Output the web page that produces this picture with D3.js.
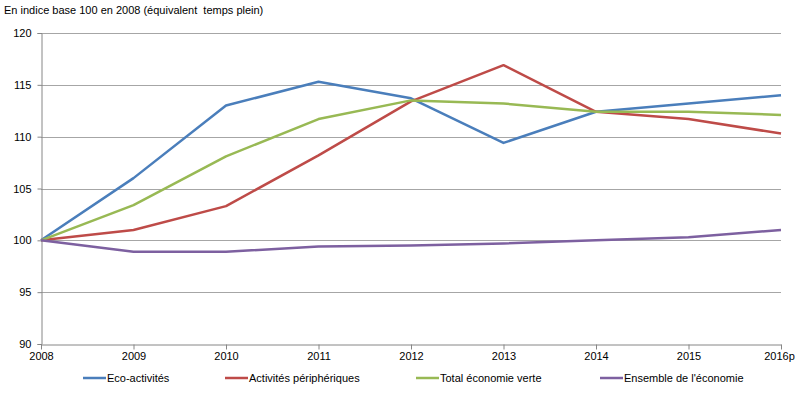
<!DOCTYPE html>
<html>
<head>
<meta charset="utf-8">
<script src="https://cdn.jsdelivr.net/npm/d3@7"></script>
<style>
  body { margin: 0; background: #fff; }
  text { font-family: "Liberation Sans", Arial, sans-serif; font-size: 11px; fill: #000; }
</style>
</head>
<body>
<svg id="chart"></svg>
<script>
// Years on the x axis
var years = ['2008', '2009', '2010', '2011', '2012', '2013', '2014', '2015', '2016p'];

// Series values (index base 100 in 2008)
var ecoActivites = [100, 106, 113, 115.3, 113.7, 109.4, 112.4, 113.2, 114];
var activitesPeripheriques = [100, 101, 103.3, 108.2, 113.4, 116.9, 112.4, 111.7, 110.3];
var totalEconomieVerte = [100, 103.4, 108.1, 111.7, 113.5, 113.2, 112.4, 112.4, 112.1];
var ensembleEconomie = [100, 98.9, 98.9, 99.4, 99.5, 99.7, 100, 100.3, 101];

var yTicks = [90, 95, 100, 105, 110, 115, 120];

var seriesNames = ['Eco-activités', 'Activités périphériques', 'Total économie verte', 'Ensemble de l\'économie'];
var seriesColors = ['#4a7ebb', '#be4b48', '#98b954', '#7d60a0'];
var seriesValues = [ecoActivites, activitesPeripheriques, totalEconomieVerte, ensembleEconomie];

var svg = d3.select('#chart')
    .attr('width', 800)
    .attr('height', 401);

var x = d3.scalePoint().domain(years).range([41, 781]);
var y = d3.scaleLinear().domain([90, 120]).range([344, 33]);

// title
svg.append('text')
    .attr('x', 4)
    .attr('y', 14)
    .style('white-space', 'pre')
    .text('En indice base 100 en 2008 (équivalent  temps plein)');

// gridlines
svg.append('g')
    .selectAll('line')
    .data(yTicks.filter(function (d) { return d > 90; }))
    .enter()
    .append('line')
    .attr('x1', 41)
    .attr('x2', 781)
    .attr('y1', function (d) { return Math.round(y(d)) + 0.5; })
    .attr('y2', function (d) { return Math.round(y(d)) + 0.5; })
    .attr('stroke', '#a6a6a6')
    .attr('stroke-width', 1);

// y axis
var yAxis = svg.append('g')
    .attr('transform', 'translate(41.5,0)')
    .call(d3.axisLeft(y).tickValues(yTicks).tickSize(4).tickPadding(6));
yAxis.select('.domain').attr('stroke', '#868686');
yAxis.selectAll('.tick line').attr('stroke', '#868686');
yAxis.selectAll('.tick text').style('font-size', '11px').style('font-family', '"Liberation Sans", Arial, sans-serif');

// x axis
var xAxis = svg.append('g')
    .attr('transform', 'translate(0,' + (Math.round(y(90)) + 0.5) + ')')
    .call(d3.axisBottom(x).tickSize(5).tickPadding(3).tickSizeOuter(0));
xAxis.select('.domain').attr('stroke', '#868686');
xAxis.selectAll('.tick line').attr('stroke', '#868686');
xAxis.selectAll('.tick text').style('font-size', '11px').style('font-family', '"Liberation Sans", Arial, sans-serif');
xAxis.selectAll('.tick text').filter(function (d) { return d === '2016p'; }).attr('dx', '-2');

// lines
var line = d3.line()
    .x(function (d, i) { return x(years[i]); })
    .y(function (d) { return y(d); });

svg.append('g')
    .selectAll('path')
    .data(seriesValues)
    .enter()
    .append('path')
    .attr('d', line)
    .attr('fill', 'none')
    .attr('stroke', function (d, i) { return seriesColors[i]; })
    .attr('stroke-width', 2.5)
    .attr('stroke-linejoin', 'round');

// legend
var legendX = [83, 225, 416, 600];
var legend = svg.append('g')
    .selectAll('g')
    .data(seriesNames)
    .enter()
    .append('g')
    .attr('transform', function (d, i) { return 'translate(' + legendX[i] + ',378)'; });

legend.append('line')
    .attr('x1', 0)
    .attr('x2', 23)
    .attr('stroke', function (d, i) { return seriesColors[i]; })
    .attr('stroke-width', 2.5);

legend.append('text')
    .attr('x', 24)
    .attr('y', 4)
    .text(function (d) { return d; });
</script>
</body>
</html>
